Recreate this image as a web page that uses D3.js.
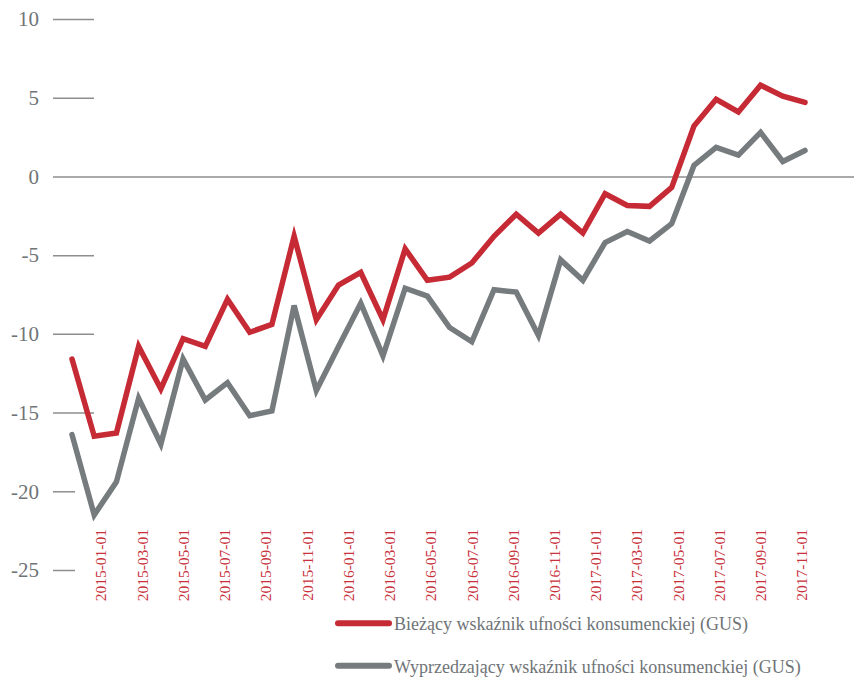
<!DOCTYPE html>
<html lang="pl">
<head>
    <meta charset="UTF-8">
    <title>Wskaźnik ufności konsumenckiej</title>
    <script src="https://cdn.jsdelivr.net/npm/d3@7"></script>
    <style>
        body { margin: 0; background: #fff; }
        text { font-family: "Liberation Serif", "DejaVu Serif", serif; }
    </style>
</head>
<body>
<script type="text/javascript">
    var width = 854;
    var height = 677;

    // dane miesięczne
    var biezacy = [-11.6, -16.5, -16.3, -10.8, -13.5, -10.3, -10.8, -7.8, -9.9, -9.4,
        -3.8, -9.1, -6.9, -6.1, -9.1, -4.6, -6.6, -6.4, -5.5, -3.8,
        -2.4, -3.6, -2.4, -3.6, -1.1, -1.85, -1.9, -0.7, 3.2, 4.9,
        4.1, 5.8, 5.1, 4.7];
    var wyprzedzajacy = [-16.4, -21.5, -19.4, -14.1, -17.0, -11.6, -14.2, -13.1, -15.2, -14.9,
        -8.2, -13.6, -10.8, -8.05, -11.4, -7.1, -7.6, -9.6, -10.5, -7.2,
        -7.35, -10.1, -5.3, -6.6, -4.2, -3.5, -4.1, -3.0, 0.7, 1.85,
        1.35, 2.8, 0.95, 1.65];
    var xLabels = ["2015-01-01", "2015-03-01", "2015-05-01", "2015-07-01", "2015-09-01", "2015-11-01",
        "2016-01-01", "2016-03-01", "2016-05-01", "2016-07-01", "2016-09-01", "2016-11-01",
        "2017-01-01", "2017-03-01", "2017-05-01", "2017-07-01", "2017-09-01", "2017-11-01"];
    var yTicks = [10, 5, 0, -5, -10, -15, -20, -25];
    var seriesNames = ["Bieżący wskaźnik ufności konsumenckiej (GUS)",
        "Wyprzedzający wskaźnik ufności konsumenckiej (GUS)"];

    var red = "#c62a35";
    var grey = "#767b7d";

    var svg = d3.select("body").append("svg")
            .attr("width", width)
            .attr("height", height);

    var xScale = d3.scalePoint()
            .domain(d3.range(biezacy.length))
            .range([72, 805]);
    var labelScale = d3.scalePoint()
            .domain(xLabels)
            .range([100.5, 801.5]);
    var yScale = d3.scaleLinear()
            .domain([-25, 10])
            .range([570, 19]);

    // oś Y
    var yAxis = d3.axisLeft(yScale)
            .tickValues(yTicks)
            .tickSize(41)
            .tickPadding(14)
            .tickFormat(function (d) { return String(d); });   // zwykły łącznik zamiast "−"
    var gy = svg.append("g")
            .attr("transform", "translate(94,0)")
            .attr("font-family", null)
            .call(yAxis);
    gy.select(".domain").remove();
    gy.selectAll(".tick line")
            .attr("stroke", "#8e8e8e")
            .attr("stroke-width", 1.5)
            .attr("x1", function (d) {
                if (d === 0) return width - 94;   // linia zera przez cały wykres
                if (d <= -20) return -19;
                return 0;
            });
    gy.selectAll(".tick text")
            .attr("fill", "#6f7477")
            .attr("font-size", "21px")
            .style("font-family", "'Liberation Serif', serif");

    // etykiety osi X
    var xAxis = d3.axisBottom(labelScale).tickSize(0).tickPadding(0);
    var gx = svg.append("g")
            .attr("transform", "translate(0,529)")
            .call(xAxis);
    gx.select(".domain").remove();
    gx.selectAll(".tick text")
            .attr("fill", "#c8313b")
            .attr("font-size", "15.5px")
            .attr("text-anchor", "end")
            .attr("transform", "rotate(-90)")
            .attr("x", 0)
            .attr("y", 0)
            .attr("dx", 0)
            .attr("dy", "0.35em")
            .style("font-family", "'Liberation Serif', serif");

    // linie
    var line = d3.line()
            .x(function (d, i) { return xScale(i); })
            .y(function (d) { return yScale(d); });

    svg.append("path")
            .datum(wyprzedzajacy)
            .attr("fill", "none")
            .attr("stroke", grey)
            .attr("stroke-width", 5.5)
            .attr("stroke-linecap", "round")
            .attr("d", line);

    svg.append("path")
            .datum(biezacy)
            .attr("fill", "none")
            .attr("stroke", red)
            .attr("stroke-width", 5.5)
            .attr("stroke-linecap", "round")
            .attr("d", line);

    // legenda
    var legend = svg.selectAll(".legend")
            .data([red, grey])
            .enter()
            .append("g")
            .attr("class", "legend")
            .attr("transform", function (d, i) {
                return "translate(336," + (623.3 + i * 42.5) + ")";
            });
    legend.append("line")
            .attr("x1", 2)
            .attr("x2", 53)
            .attr("stroke", function (d) { return d; })
            .attr("stroke-width", 6)
            .attr("stroke-linecap", "round");
    legend.append("text")
            .attr("x", 58)
            .attr("y", 7)
            .attr("fill", "#6f7477")
            .attr("font-size", "18px")
            .text(function (d, i) { return seriesNames[i]; });
</script>
</body>
</html>
